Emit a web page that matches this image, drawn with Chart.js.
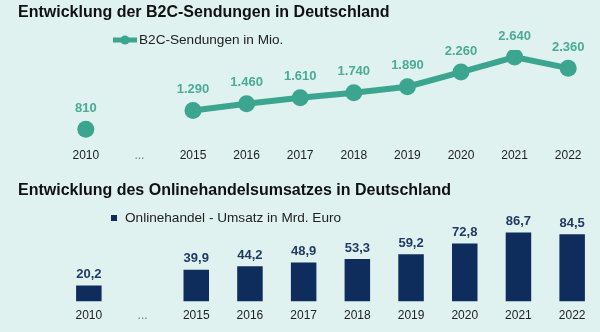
<!DOCTYPE html>
<html>
<head>
<meta charset="utf-8">
<script src="https://cdn.jsdelivr.net/npm/chart.js@4"></script>
<style>
    html, body { margin: 0; padding: 0; background: #dff2ef; }
    .box { position: absolute; left: 0; width: 600px; }
</style>
</head>
<body>
<div class="box" style="top:0"><canvas id="sendungen" width="600" height="175"></canvas></div>
<div class="box" style="top:166px"><canvas id="umsatz" width="600" height="166"></canvas></div>
<script>
const years = ['2010', '...', '2015', '2016', '2017', '2018', '2019', '2020', '2021', '2022'];
const sendungen = [810, null, 1290, 1460, 1610, 1740, 1890, 2260, 2640, 2360];
const umsatz = [20.2, null, 39.9, 44.2, 48.9, 53.3, 59.2, 72.8, 86.7, 84.5];

const FONT = '"Liberation Sans", Arial, sans-serif';
const teal = '#3ba58f';
const navy = '#0f2d5c';

// 1.290 / 20,2 like in the German original
function fmtThousands (v) {
    return String(v).replace(/\B(?=(\d{3})+(?!\d))/g, '.');
}
function fmtDecimal (v) {
    return v.toFixed(1).replace('.', ',');
}

function xAxis () {
    return {
        offset: true,
        grid: { display: false, drawTicks: false },
        border: { display: false },
        ticks: {
            padding: 7,
            color: (c) => c.tick && c.tick.label === '...' ? '#777' : '#222',
            font: { family: FONT, size: 12 }
        }
    };
}

// title, legend and value labels are drawn by hand
const sendungenPlugin = {
    id: 'sendungenDeko',
    afterDraw (chart) {
        const ctx = chart.ctx;
        ctx.save();
        ctx.textBaseline = 'middle';
        ctx.fillStyle = '#111';
        ctx.font = 'bold 16px ' + FONT;
        ctx.fillText('Entwicklung der B2C-Sendungen in Deutschland', 18, 13);

        ctx.strokeStyle = teal;
        ctx.lineWidth = 5;
        ctx.beginPath();
        ctx.moveTo(113, 40);
        ctx.lineTo(137, 40);
        ctx.stroke();
        ctx.fillStyle = teal;
        ctx.beginPath();
        ctx.arc(125, 40, 4.5, 0, Math.PI * 2);
        ctx.fill();
        ctx.fillStyle = '#222';
        ctx.font = '13.6px ' + FONT;
        ctx.fillText('B2C-Sendungen in Mio.', 139, 40);

        ctx.textAlign = 'center';
        ctx.fillStyle = '#4aab96';
        ctx.font = 'bold 13px ' + FONT;
        chart.getDatasetMeta(0).data.forEach((pt, i) => {
            if (sendungen[i] == null) return;
            ctx.fillText(fmtThousands(sendungen[i]), pt.x, pt.y - 21);
        });
        ctx.restore();
    }
};

const umsatzPlugin = {
    id: 'umsatzDeko',
    afterDraw (chart) {
        const ctx = chart.ctx;
        ctx.save();
        ctx.textBaseline = 'middle';
        ctx.fillStyle = '#111';
        ctx.font = 'bold 16px ' + FONT;
        ctx.fillText('Entwicklung des Onlinehandelsumsatzes in Deutschland', 18, 25);

        ctx.fillStyle = navy;
        ctx.fillRect(111, 49, 6, 6);
        ctx.fillStyle = '#222';
        ctx.font = '13.6px ' + FONT;
        ctx.fillText('Onlinehandel - Umsatz in Mrd. Euro', 125, 52);

        ctx.textAlign = 'center';
        ctx.fillStyle = '#1f3a63';
        ctx.font = 'bold 13px ' + FONT;
        chart.getDatasetMeta(0).data.forEach((bar, i) => {
            if (umsatz[i] == null) return;
            ctx.fillText(fmtDecimal(umsatz[i]), bar.x, bar.y - 11);
        });
        ctx.restore();
    }
};

new Chart(document.querySelector('#sendungen'), {
    type: 'line',
    data: {
        labels: years,
        datasets: [{
            label: 'B2C-Sendungen in Mio.',
            data: sendungen,
            borderColor: teal,
            backgroundColor: teal,
            borderWidth: 6,
            pointRadius: 8.5,
            pointBorderWidth: 0,
            pointBackgroundColor: teal,
            spanGaps: false,
            tension: 0
        }]
    },
    options: {
        responsive: false,
        animation: false,
        layout: { autoPadding: false, padding: { left: 59, right: 5, top: 50, bottom: 5 } },
        plugins: { legend: { display: false }, tooltip: { enabled: false } },
        scales: {
            x: xAxis(),
            y: { display: false, min: 500, max: 2820 }
        }
    },
    plugins: [sendungenPlugin]
});

new Chart(document.querySelector('#umsatz'), {
    type: 'bar',
    data: {
        labels: years,
        datasets: [{
            label: 'Onlinehandel - Umsatz in Mrd. Euro',
            data: umsatz,
            backgroundColor: navy,
            categoryPercentage: 1,
            barPercentage: 0.475
        }]
    },
    options: {
        responsive: false,
        animation: false,
        layout: { padding: { left: 62, right: 1, top: 65, bottom: 2 } },
        plugins: { legend: { display: false }, tooltip: { enabled: false } },
        scales: {
            x: xAxis(),
            y: { display: false, min: 0, max: 88.5 }
        }
    },
    plugins: [umsatzPlugin]
});
</script>
</body>
</html>
